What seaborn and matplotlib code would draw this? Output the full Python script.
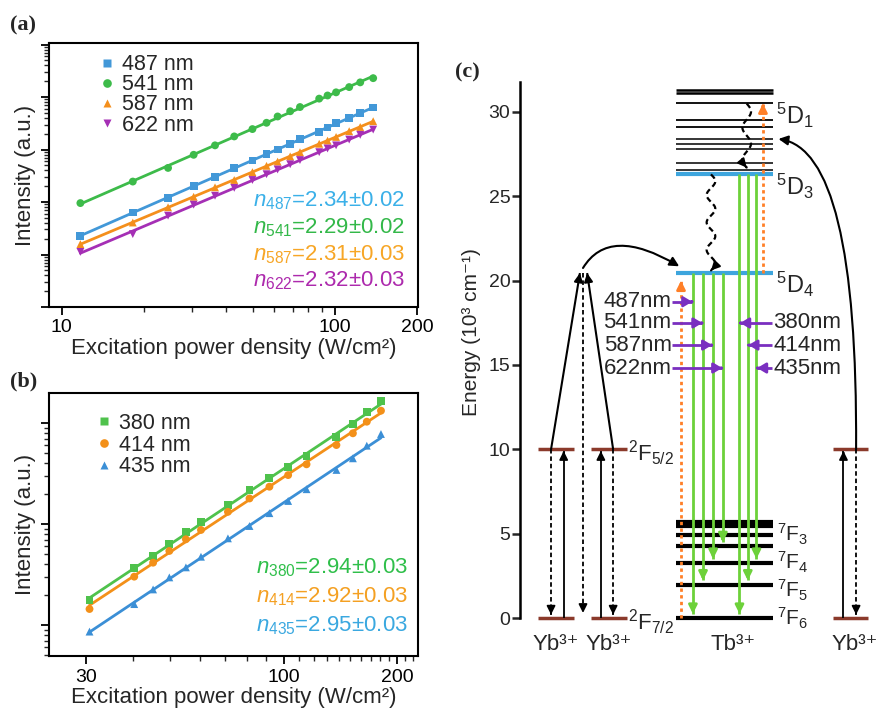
import numpy as np
import pandas as pd
import seaborn as sns
import matplotlib
matplotlib.use("Agg")
import matplotlib.pyplot as plt
from matplotlib.path import Path
from matplotlib.patches import FancyArrowPatch
from matplotlib.ticker import NullFormatter, LogLocator

# ---------------- data: panel (a) ----------------
power_a = [11.7, 18.2, 24.5, 30.4, 36.4, 42.8, 49.9, 56.2, 61.7, 68.6, 74.5,
           87.6, 94.0, 101.0, 112.8, 123.8, 138.1]
int_487 = [22.9, 63.1, 120.2, 204.2, 295.1, 446.7, 616.6, 831.8, 1000, 1288, 1585,
           2188, 2630, 3162, 3981, 5012, 6310]
int_541 = [95.5, 245.5, 446.7, 794.3, 1202, 1778, 2455, 3236, 4266, 5370, 6457,
           9333, 10715, 12303, 15488, 19055, 22909]
int_587 = [15.8, 40.7, 79.4, 125.9, 190.5, 263.0, 371.5, 489.8, 588.8, 741.3, 891.3,
           1288, 1479, 1738, 2239, 2692, 3467]
int_622 = [11.2, 24.5, 55.0, 89.1, 131.8, 186.2, 263.0, 338.8, 416.9, 524.8, 631.0,
           891.3, 1047, 1202, 1549, 1905, 2399]
labels_a = ["487 nm", "541 nm", "587 nm", "622 nm"]
slopes_a = ["2.34±0.02", "2.29±0.02", "2.31±0.03", "2.32±0.03"]
colors_a = ["#4298d8", "#3dbb4a", "#f48f1c", "#a52fb5"]
textcol_a = ["#3bb0e8", "#33b849", "#f7a626", "#ad2aad"]
markers_a = ["s", "o", "^", "v"]

# ---------------- data: panel (b) ----------------
power_b = [30.6, 40.2, 45.1, 49.8, 55.1, 60.4, 71.2, 81.2, 91.7, 102.8, 115.0,
           138.0, 152.6, 166.1, 181.1]
int_380 = [1.77, 3.69, 4.85, 6.30, 8.28, 10.4, 15.4, 21.7, 28.3, 36.4, 47.1,
           73.1, 97.0, 127.6, 166.3]
int_414 = [1.44, 3.01, 4.14, 5.41, 7.06, 8.73, 13.2, 17.9, 23.4, 30.5, 39.0,
           60.5, 79.1, 103.0, 132.4]
int_435 = [0.86, 1.61, 2.25, 2.96, 3.72, 4.74, 7.21, 9.55, 12.8, 16.9, 22.1,
           34.3, 44.7, 59.6, 77.8]
labels_b = ["380 nm", "414 nm", "435 nm"]
slopes_b = ["2.94±0.03", "2.92±0.03", "2.95±0.03"]
colors_b = ["#4fc24c", "#f39019", "#3b8fd6"]
textcol_b = ["#2fbf4a", "#f4a022", "#3aa8e0"]
markers_b = ["s", "o", "^"]

# ---------------- data: panel (c) energy levels (10^3 cm^-1) ----------------
yb_levels = [0.0, 10.0]
tb_5d_upper = [31.3, 31.1, 30.52, 29.52, 29.10, 28.40, 28.13, 27.79, 26.98, 26.54]
tb_5d_lw = [1.8, 1.8, 1.3, 1.3, 1.3, 1.1, 1.1, 1.1, 1.1, 1.1]
E_5D1, E_5D3, E_5D4 = 30.52, 26.35, 20.45
tb_7f = [5.69, 5.43, 4.94, 4.25, 3.26, 1.98, 0.0]
E_7F = {"3": 4.25, "4": 3.26, "5": 1.98, "6": 0.0}
green_from_5d4 = ["6", "5", "4", "3"]   # 487, 541, 587, 622 nm
green_from_5d3 = ["6", "5", "4"]        # 380, 414, 435 nm
left_em = ["487nm", "541nm", "587nm", "622nm"]
left_em_E = [18.75, 17.49, 16.18, 14.82]
right_em = ["380nm", "414nm", "435nm"]
right_em_E = [17.49, 16.18, 14.82]

# ---------------- style ----------------
sns.set_style("ticks")
plt.rcParams["font.family"] = ["Liberation Sans", "DejaVu Sans"]
plt.rcParams["mathtext.fontset"] = "custom"
plt.rcParams["mathtext.rm"] = "Liberation Sans"
plt.rcParams["mathtext.it"] = "Liberation Sans:italic"
plt.rcParams["mathtext.bf"] = "Liberation Sans:bold"

W, H = 881, 718
fig = plt.figure(figsize=(W / 100, H / 100), dpi=100)


def box(l, t, r, b):
    return [l / W, (H - b) / H, (r - l) / W, (b - t) / H]


axA = fig.add_axes(box(49, 43, 418, 307))
axB = fig.add_axes(box(49, 393, 418, 656))
axC = fig.add_axes(box(520, 60, 881, 700))


def power_panel(ax, power, series, labels, colors, markers, xlim, ylim,
                xmajor, xminor, leg_anchor, legsp):
    df = pd.DataFrame({
        "power": np.tile(power, len(series)),
        "intensity": np.concatenate(series),
        "line": np.repeat(labels, len(power)),
    })
    fits = []
    for lab, ys in zip(labels, series):
        lx, ly = np.log10(power), np.log10(ys)
        p = np.polyfit(lx, ly, 1)
        fits.append(pd.DataFrame({"power": power, "fit": 10 ** np.polyval(p, lx), "line": lab}))
    fit = pd.concat(fits)
    pal = dict(zip(labels, colors))
    mk = dict(zip(labels, markers))
    ax.set_xscale("log")
    ax.set_yscale("log")
    sns.lineplot(data=fit, x="power", y="fit", hue="line", palette=pal, legend=False,
                 estimator=None, linewidth=2.0, ax=ax)
    sns.scatterplot(data=df, x="power", y="intensity", hue="line", style="line",
                    palette=pal, markers=mk, s=32, edgecolor="none", ax=ax, zorder=3)
    ax.set_xlim(*xlim)
    ax.set_ylim(*ylim)
    ax.set_xticks(xmajor, labels=[str(v) for v in xmajor])
    ax.set_xticks(xminor, minor=True)
    ax.xaxis.set_minor_formatter(NullFormatter())
    ax.yaxis.set_major_locator(LogLocator(base=10, numticks=20))
    ax.yaxis.set_minor_locator(LogLocator(base=10, subs=np.arange(2, 10), numticks=20))
    ax.yaxis.set_major_formatter(NullFormatter())
    ax.yaxis.set_minor_formatter(NullFormatter())
    ax.tick_params(which="major", direction="out", length=6, width=1.3, labelsize=14,
                   pad=3, colors="black")
    ax.tick_params(which="minor", direction="out", length=3.5, width=1.0)
    for s in ax.spines.values():
        s.set_linewidth(1.5)
        s.set_color("black")
    ax.set_xlabel("Excitation power density (W/cm²)", fontsize=16, labelpad=1)
    ax.set_ylabel("Intensity (a.u.)", fontsize=16, labelpad=0.5)
    sns.move_legend(ax, "upper left", bbox_to_anchor=leg_anchor, title=None,
                    frameon=False, fontsize=15.5, handletextpad=0.3,
                    labelspacing=legsp, borderaxespad=0, borderpad=0,
                    handlelength=0.8, markerscale=1.1)


power_panel(axA, power_a, [int_487, int_541, int_587, int_622], labels_a, colors_a,
            markers_a, (8.98, 201.5), (1.0, 10 ** 5.03), [10, 100, 200],
            [20, 30, 40, 50, 60, 70, 80, 90], (0.133, 0.958), -0.04)
power_panel(axB, power_b, [int_380, int_414, int_435], labels_b, colors_b,
            markers_b, (23.9, 227), (10 ** -0.307, 10 ** 2.297), [30, 100, 200],
            [40, 50, 60, 70, 80, 90, 110, 120, 130, 140, 150, 160, 170, 180, 190, 210, 220],
            (0.125, 0.925), 0.04)

for i, (lab, sl, c) in enumerate(zip(labels_a, slopes_a, textcol_a)):
    axA.text(0.965, 0.380 - i * 0.101, "$n_{%s}$=%s" % (lab.split()[0], sl),
             transform=axA.transAxes, ha="right", va="baseline", fontsize=16, color=c)
for i, (lab, sl, c) in enumerate(zip(labels_b, slopes_b, textcol_b)):
    axB.text(0.973, 0.314 - i * 0.111, "$n_{%s}$=%s" % (lab.split()[0], sl),
             transform=axB.transAxes, ha="right", va="baseline", fontsize=16, color=c)

# ---------------- panel (c) ----------------
ax = axC
ax.set_xlim(0, 100)
ax.set_ylim(-4.86, 33.08)
for k in ["top", "right", "bottom"]:
    ax.spines[k].set_visible(False)
ax.spines["left"].set_bounds(0, 31.8)
ax.spines["left"].set_linewidth(1.8)
ax.spines["left"].set_color("black")
ax.set_xticks([])
ax.set_yticks([0, 5, 10, 15, 20, 25, 30])
ax.tick_params(axis="y", direction="out", length=6, width=1.8, labelsize=14, pad=1)
ax.set_ylabel("Energy (10³ cm⁻¹)", fontsize=15)
ax.yaxis.set_label_coords(-0.107, 0.575)

# layout columns (axis units 0..100)
YB1 = (5.0, 15.0)
YB2 = (19.7, 29.6)
TB = (43.2, 70.1)
YB3 = (86.7, 96.4)
BROWN = "#8b3a2b"
BLUE = "#3da5dd"
GREEN = "#6dd13a"
ORANGE = "#ff7f27"
PURPLE = "#7a2fc0"


def head(x0, y0, x1, y1, color, lw, hl=0.5, hw=0.25, ms=10):
    ax.annotate("", xy=(x1, y1), xytext=(x1 - (x1 - x0) * 0.02, y1 - (y1 - y0) * 0.02),
                arrowprops=dict(arrowstyle="-|>,head_length=%g,head_width=%g" % (hl, hw),
                                color=color, lw=lw, shrinkA=0, shrinkB=0,
                                mutation_scale=ms), zorder=5)


def arrow(x0, y0, x1, y1, color="k", lw=1.3, ls="-", hl=0.5, hw=0.25, z=4):
    ax.plot([x0, x1], [y0, y1], color=color, lw=lw, ls=ls, zorder=z,
            solid_capstyle="butt", dash_capstyle="butt")
    head(x0, y0, x1, y1, color, lw, hl, hw)


# Yb levels
for (a, b) in [YB1, YB2, YB3]:
    ax.hlines(yb_levels, a, b, colors=BROWN, lw=2.5, zorder=2)
# Tb upper 5D manifold
for e, w in zip(tb_5d_upper, tb_5d_lw):
    ax.hlines(e, TB[0], TB[1], colors="black", lw=w, zorder=2)
ax.hlines([E_5D3, E_5D4], TB[0], TB[1], colors=BLUE, lw=3, zorder=3)
ax.hlines(tb_7f, TB[0], TB[1], colors="black", lw=3, zorder=2)

# Yb3+ transitions
DASH = (0, (2.5, 1.6))
arrow(8.6, 10.0, 8.6, 0.2, ls=DASH)
arrow(12.1, 0.0, 12.1, 9.9)
arrow(22.4, 0.0, 22.4, 9.9)
arrow(25.8, 10.0, 25.8, 0.2, ls=DASH)
arrow(17.45, 20.45, 17.45, 0.3, ls=DASH)
arrow(8.6, 10.0, 16.6, 20.45, lw=1.5)
arrow(25.8, 10.0, 18.6, 20.45, lw=1.5)
arrow(89.6, 0.0, 89.6, 9.9)
arrow(93.1, 10.0, 93.1, 0.2, ls=DASH)

# energy transfer curves
for pts in [[(17.45, 20.75), (24.7, 23.3), (44.1, 20.85)],
            [(93.1, 10.0), (93.6, 27.7), (71.6, 28.4)]]:
    p = FancyArrowPatch(path=Path(pts, [Path.MOVETO, Path.CURVE3, Path.CURVE3]),
                        arrowstyle="-|>,head_length=0.55,head_width=0.28",
                        mutation_scale=10, color="black", lw=1.5, zorder=5)
    ax.add_patch(p)

# orange ESA arrows
arrow(44.6, 0.0, 44.6, 20.0, color=ORANGE, lw=2, ls=(0, (1.2, 1.2)))
arrow(67.3, E_5D4, 67.3, 30.5, color=ORANGE, lw=2, ls=(0, (1.2, 1.2)))

# green emission arrows
for x, f in zip([47.9, 50.7, 53.5, 56.2], green_from_5d4):
    arrow(x, E_5D4, x, E_7F[f] + 0.25, color=GREEN, lw=2, z=4)
for x, f in zip([60.8, 63.1, 65.5], green_from_5d3):
    arrow(x, E_5D3, x, E_7F[f] + 0.25, color=GREEN, lw=2, z=4)


# non-radiative wavy relaxations
def wavy(xc, y0, y1, amp, nw):
    t = np.linspace(0, 1, 300)
    y = y0 + (y1 - y0) * t
    x = xc + amp * np.sin(2 * np.pi * nw * t)
    ax.plot(x, y, color="black", lw=1.6, ls=(0, (2.5, 1.6)), zorder=5)
    head(x[-8], y[-8], x[-1], y[-1], "black", 1.5)


wavy(62.8, 30.5, 26.7, 1.2, 2.0)
wavy(52.9, 26.3, 20.6, 1.2, 3.5)

# purple wavelength pointers
for lab, e, xt in zip(left_em, left_em_E, [47.7, 50.5, 53.2, 56.0]):
    ax.text(42.0, e, lab, ha="right", va="center", fontsize=16)
    arrow(42.1, e, xt, e, color=PURPLE, lw=2, hl=0.5, hw=0.3)
for lab, e, xt in zip(right_em, right_em_E, [61.0, 63.3, 65.7]):
    ax.text(70.1, e, lab, ha="left", va="center", fontsize=16)
    arrow(69.8, e, xt, e, color=PURPLE, lw=2, hl=0.5, hw=0.3)

# level labels
ax.text(71.0, 29.8, "$^5$D$_1$", fontsize=17, va="center", ha="left")
ax.text(71.0, 25.6, "$^5$D$_3$", fontsize=17, va="center", ha="left")
ax.text(71.0, 19.8, "$^5$D$_4$", fontsize=17, va="center", ha="left")
for f, e in zip(["3", "4", "5", "6"], [4.95, 3.3, 1.65, 0.0]):
    ax.text(71.3, e, "$^7$F$_{%s}$" % f, fontsize=15, va="center", ha="left")
ax.text(29.8, 9.75, "$^2$F$_{5/2}$", fontsize=16, va="center", ha="left")
ax.text(29.8, -0.25, "$^2$F$_{7/2}$", fontsize=16, va="center", ha="left")
for xc, lab in [(10.0, "Yb³⁺"), (24.7, "Yb³⁺"), (59.0, "Tb³⁺"), (92.8, "Yb³⁺")]:
    ax.text(xc, -1.55, lab, fontsize=16, ha="center", va="center")

# panel letters
for x, y, s in [(10, 25, "(a)"), (10, 381, "(b)"), (455, 72, "(c)")]:
    fig.text(x / W, 1 - y / H, s, fontfamily="Liberation Serif", fontweight="bold",
             fontsize=16, ha="left", va="center")

fig.savefig("out.png", dpi=100)
